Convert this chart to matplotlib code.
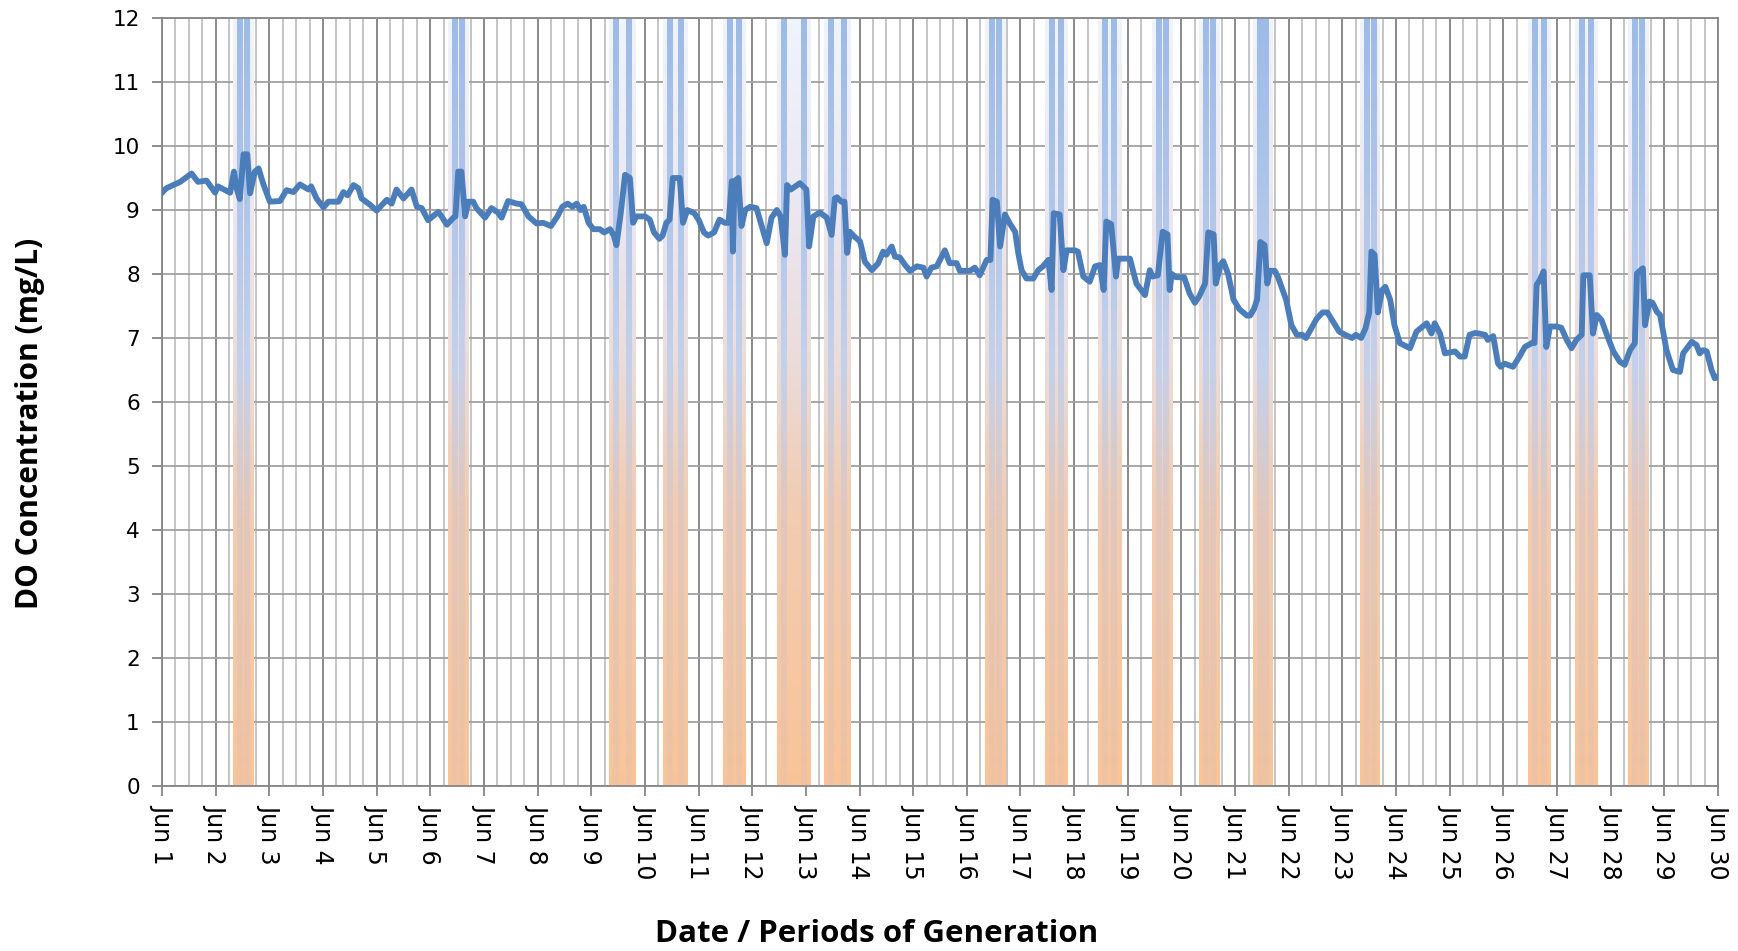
import numpy as np
import matplotlib
matplotlib.use("Agg")
from matplotlib import pyplot as plt
from matplotlib.colors import LinearSegmentedColormap

# generation periods, in days from Jun 1 00:00
gen_start = [1.33, 5.33, 8.33, 9.33, 10.46, 11.46, 12.33, 15.33, 16.46, 17.44,
             18.46, 19.33, 20.33, 22.33, 25.46, 26.33, 27.33]
gen_end = [1.71, 5.71, 8.83, 9.79, 10.875, 12.09, 12.83, 15.71, 16.875, 17.87,
           18.84, 19.71, 20.70, 22.70, 25.88, 26.75, 27.71]

# dissolved oxygen record (days from Jun 1, mg/L)
do_day = [
    0.00, 0.08, 0.34, 0.55, 0.67, 0.83, 0.99, 1.04, 1.27, 1.34, 1.39, 1.45, 1.52,
    1.59, 1.64, 1.73, 1.80, 1.89, 2.01, 2.20, 2.32, 2.45, 2.57, 2.73, 2.78, 2.88,
    3.01, 3.10, 3.29, 3.38, 3.46, 3.57, 3.66, 3.72, 3.88, 4.00, 4.19, 4.28, 4.37,
    4.50, 4.65, 4.75, 4.84, 4.96, 5.15, 5.21, 5.31, 5.43, 5.47, 5.52, 5.58, 5.65,
    5.71, 5.80, 5.86, 6.02, 6.14, 6.26, 6.33, 6.45, 6.61, 6.70, 6.83, 6.98,
    7.10, 7.25, 7.37, 7.46, 7.56, 7.65, 7.73, 7.80, 7.86, 7.95, 8.04, 8.16, 8.24,
    8.35, 8.42, 8.47, 8.55, 8.63, 8.72, 8.78, 8.84, 9.00, 9.09, 9.17, 9.27, 9.33,
    9.40, 9.46, 9.52, 9.65, 9.71, 9.79, 9.92, 10.00, 10.10, 10.18, 10.29, 10.39,
    10.49, 10.56, 10.62, 10.64, 10.67, 10.74, 10.80, 10.87, 10.96,
    11.08, 11.18, 11.27, 11.36, 11.46, 11.53, 11.61, 11.65, 11.72, 11.89, 12.01,
    12.06, 12.14, 12.26, 12.39, 12.48, 12.54, 12.58, 12.66, 12.72, 12.77, 12.82,
    12.91, 13.01, 13.10, 13.23, 13.35, 13.44, 13.50, 13.60, 13.66, 13.75, 13.85,
    13.94, 14.07, 14.19, 14.25, 14.34, 14.44, 14.50, 14.59, 14.68, 14.81, 14.87,
    15.06, 15.15, 15.24, 15.37, 15.44, 15.48, 15.56, 15.62, 15.71, 15.80, 15.90,
    15.96, 16.02, 16.11, 16.24, 16.33, 16.42, 16.52, 16.58, 16.62, 16.73, 16.80,
    16.86, 17.01, 17.07, 17.17, 17.29, 17.39, 17.48, 17.55, 17.60, 17.69, 17.78,
    17.82, 18.04, 18.16, 18.32, 18.41, 18.46, 18.56, 18.65, 18.74, 18.78, 18.82,
    18.90, 19.05, 19.15, 19.25, 19.33, 19.44, 19.50, 19.60, 19.64, 19.73, 19.78,
    19.87, 19.97, 20.08, 20.22, 20.28, 20.35, 20.41, 20.47, 20.55, 20.60, 20.65,
    20.74, 20.80, 20.95, 21.05, 21.15, 21.25, 21.32, 21.42, 21.52, 21.63, 21.72,
    21.83, 21.94, 22.05, 22.18, 22.25, 22.35, 22.43, 22.50, 22.54, 22.60, 22.66,
    22.74, 22.80, 22.89, 22.97, 23.07, 23.26, 23.38, 23.57, 23.66, 23.72, 23.82,
    23.91, 24.10, 24.19, 24.28, 24.37, 24.48, 24.66, 24.71, 24.81, 24.90, 24.95,
    25.02, 25.18, 25.30, 25.40, 25.53, 25.58, 25.62, 25.68, 25.75, 25.80, 25.87,
    25.99, 26.08, 26.18, 26.27, 26.36, 26.46, 26.49, 26.61, 26.67, 26.74, 26.83,
    26.92, 27.05, 27.17, 27.26, 27.36, 27.45, 27.49, 27.60, 27.64, 27.72, 27.78,
    27.86, 27.92, 28.04, 28.16, 28.29, 28.35, 28.51, 28.60, 28.66, 28.72, 28.79,
    28.88, 28.94, 29.00,
]
do_mgl = [
    9.27, 9.34, 9.44, 9.57, 9.44, 9.46, 9.27, 9.37, 9.27, 9.60, 9.34, 9.17, 9.87,
    9.87, 9.26, 9.60, 9.65, 9.40, 9.13, 9.14, 9.31, 9.28, 9.40, 9.32, 9.37, 9.18,
    9.04, 9.13, 9.13, 9.28, 9.23, 9.39, 9.34, 9.18, 9.08, 8.99, 9.16, 9.10, 9.32,
    9.18, 9.32, 9.05, 9.03, 8.84, 8.97, 8.90, 8.77, 8.88, 8.90, 9.60, 9.60, 8.90,
    9.13, 9.13, 9.03, 8.88, 9.03, 8.96, 8.88, 9.14, 9.10, 9.09, 8.90, 8.79,
    8.80, 8.75, 8.90, 9.05, 9.10, 9.05, 9.10, 9.00, 9.05, 8.80, 8.70, 8.70, 8.65,
    8.70, 8.60, 8.45, 8.95, 9.55, 9.50, 8.80, 8.90, 8.90, 8.85, 8.65, 8.55, 8.60,
    8.80, 8.85, 9.50, 9.50, 8.80, 9.00, 8.95, 8.85, 8.65, 8.60, 8.65, 8.85,
    8.80, 8.80, 9.45, 8.35, 9.45, 9.50, 8.75, 9.00, 9.05,
    9.03, 8.74, 8.48, 8.88, 9.00, 8.90, 8.30, 9.39, 9.32, 9.42, 9.32,
    8.43, 8.90, 8.96, 8.88, 8.61, 9.18, 9.20, 9.13, 9.13, 8.33, 8.66,
    8.58, 8.51, 8.19, 8.06, 8.17, 8.35, 8.30, 8.43, 8.27, 8.26, 8.14,
    8.05, 8.12, 8.10, 7.96, 8.10, 8.12, 8.22, 8.37, 8.17, 8.17, 8.05,
    8.05, 8.10, 7.98, 8.22, 8.22, 9.16, 9.13, 8.43, 8.93, 8.79, 8.66,
    8.32, 8.06, 7.93, 7.93, 8.06, 8.12, 8.22, 7.75, 8.95, 8.93, 8.06,
    8.37, 8.37, 8.35, 7.96, 7.88, 8.12, 8.14, 7.75, 8.82, 8.78, 7.96,
    8.24, 8.24, 7.85, 7.67, 8.06, 7.96, 7.98, 8.66, 8.62, 7.75, 8.00,
    7.95, 7.95, 7.70, 7.55, 7.65, 7.85, 8.65, 8.62, 7.85, 8.15, 8.20,
    8.00, 7.60, 7.45, 7.35, 7.35, 7.45, 7.60, 8.50, 8.45, 7.85, 8.05,
    8.05, 7.95, 7.60, 7.20, 7.05, 7.05, 7.00, 7.15, 7.30, 7.40, 7.40,
    7.25, 7.10, 7.05, 7.00, 7.05, 7.00, 7.15, 7.40, 8.35, 8.30, 7.40,
    7.75, 7.80, 7.60, 7.20, 6.92, 6.84, 7.10, 7.23, 7.07, 7.23, 7.07,
    6.76, 6.79, 6.71, 6.71, 7.05, 7.08, 7.05, 6.97, 7.03, 6.60, 6.55,
    6.60, 6.55, 6.71, 6.86, 6.92, 6.92, 7.83, 7.91, 8.04, 6.86, 7.18,
    7.18, 7.16, 6.97, 6.84, 6.97, 7.05, 7.98, 7.98, 7.07, 7.36, 7.28,
    7.07, 6.79, 6.63, 6.58, 6.81, 6.92, 8.01, 8.09, 7.20, 7.57, 7.55,
    7.41, 7.36, 6.81, 6.50, 6.47, 6.76, 6.94, 6.89, 6.76, 6.81, 6.79,
    6.50, 6.37, 6.40,
]

day_labels = [f"Jun {d}" for d in range(1, 31)]

fig = plt.figure(figsize=(17.38, 9.51), dpi=100)
ax = fig.add_axes([162 / 1738, 1 - 786 / 951, (1718 - 162) / 1738, (786 - 18) / 951])

# gradient fills for the generation columns
base_cmap = LinearSegmentedColormap.from_list("base", [
    (0.0, "#f9c497"), (0.38, "#f1cdb4"), (0.55, "#ebdcd8"), (0.75, "#ebe7f0"), (1.0, "#f0f4fc")])
stripe_cmap = LinearSegmentedColormap.from_list("stripe", [
    (0.0, "#efc2a2"), (0.35, "#e2c7bd"), (0.55, "#c4d1ec"), (0.8, "#acc4ea"), (1.0, "#9ebbe7")])
grad = np.linspace(0, 1, 256)[:, None]

for s, e in zip(gen_start, gen_end):
    ax.imshow(grad, cmap=base_cmap, extent=(s, e, 0, 12), origin="lower",
              aspect="auto", zorder=1, interpolation="bilinear")
    for a, b in [(s + 0.075, s + 0.175), (e - 0.175, e - 0.075)]:
        ax.imshow(grad, cmap=stripe_cmap, extent=(a, b, 0, 12), origin="lower",
                  aspect="auto", zorder=1.1, interpolation="bilinear")

ax.plot(do_day, do_mgl, color="#4a7dba", lw=4.2, zorder=3, solid_joinstyle="round")

ax.set_xlim(0, 29)
ax.set_ylim(0, 12)
ax.set_xticks(range(30))
ax.set_xticks(np.arange(0, 29, 0.25), minor=True)
ax.set_xticklabels(day_labels, rotation=270, fontsize=17, family="DejaVu Sans")
ax.set_yticks(range(13))
ax.set_yticklabels([str(v) for v in range(13)], fontsize=15.5, family="DejaVu Sans")
ax.tick_params(axis="x", which="major", length=7, width=1.3, color="#868686", pad=6)
ax.tick_params(axis="x", which="minor", length=0)
ax.tick_params(axis="y", length=7, width=1.3, color="#868686", pad=9)

ax.set_axisbelow(True)
ax.grid(which="minor", axis="x", color="#c0c0c0", lw=1.3, zorder=0)
ax.grid(which="major", axis="x", color="#8a8a8a", lw=1.4, zorder=0)
ax.grid(which="major", axis="y", color="#a0a0a0", lw=1.3, zorder=0)
for sp in ax.spines.values():
    sp.set_color("#868686")
    sp.set_linewidth(1.3)

fig.text(877 / 1738, 1 - 934 / 951, "Date / Periods of Generation", ha="center",
         va="center", fontsize=22.5, fontweight="bold", family="Open Sans")
fig.text(30 / 1738, 1 - 423 / 951, "DO Concentration (mg/L)", ha="center",
         va="center", rotation=90, fontsize=21.5, fontweight="bold", family="Open Sans")

fig.savefig("out.png", dpi=100)
